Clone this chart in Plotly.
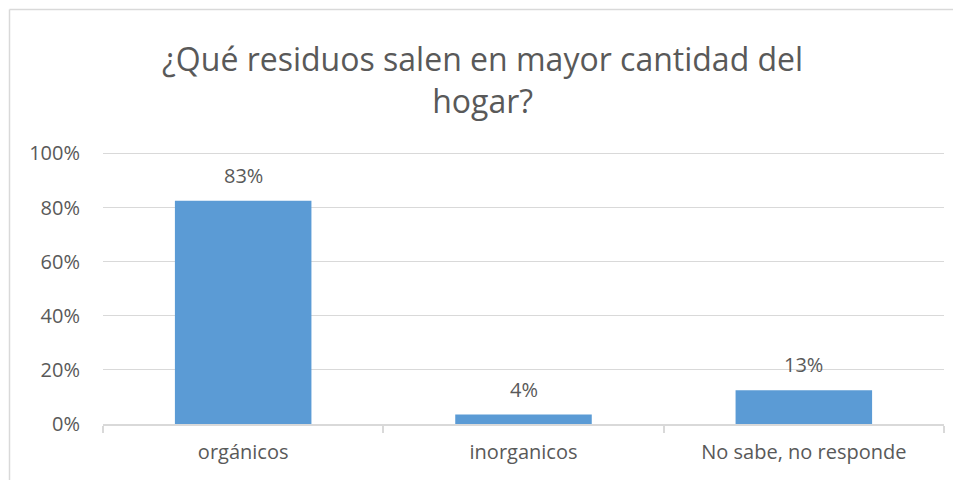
import plotly.graph_objects as go

categories = ["orgánicos", "inorganicos", "No sabe, no responde"]
values = [0.825, 0.035, 0.125]
value_labels = ["83%", "4%", "13%"]
y_ticks = [0, 0.2, 0.4, 0.6, 0.8, 1.0]
y_tick_labels = ["0%", "20%", "40%", "60%", "80%", "100%"]
title_text = "¿Qué residuos salen en mayor cantidad del<br>hogar?"

FONT = "Open Sans"
GREY = "#595959"
LINE = "#d9d9d9"

# page has an 8px body margin; figure is sized to fit the window
W, H = 953, 472
L, R, T, B = 95, 17, 140, 56
pw = W - L - R
ph = H - T - B

fig = go.Figure()
fig.add_trace(go.Bar(
    x=categories, y=values,
    marker=dict(color="#5b9bd5", line=dict(width=0)),
    width=0.487, hoverinfo="skip",
))

for c, v, t in zip(categories, values, value_labels):
    fig.add_annotation(x=c, y=v, text=t, showarrow=False, xref="x", yref="y",
                       yanchor="bottom", yshift=10,
                       font=dict(family=FONT, size=20, color=GREY))

fx = lambda px: (px - L) / pw
fy = lambda py: (H - B - py) / ph
shapes = [
    dict(type="line", xref="paper", yref="paper", x0=fx(1.5), x1=fx(1.5), y0=fy(490), y1=fy(1.5),
         line=dict(color=LINE, width=1.5)),
    dict(type="line", xref="paper", yref="paper", x0=fx(1.5), x1=fx(975), y0=fy(1.5), y1=fy(1.5),
         line=dict(color=LINE, width=1.5)),
]

fig.update_layout(
    width=W, height=H, autosize=False,
    margin=dict(l=L, r=R, t=T, b=B, pad=0),
    paper_bgcolor="white", plot_bgcolor="white",
    showlegend=False,
    shapes=shapes,
    title=dict(text=title_text, x=0.498, xref="container", xanchor="center",
               y=1 - 63 / H, yref="container", yanchor="top",
               font=dict(family=FONT, size=32, color=GREY)),
    xaxis=dict(
        type="category", showgrid=False, showline=True, linecolor=LINE, linewidth=1.5,
        ticks="outside", tickson="boundaries", ticklen=7, tickcolor=LINE, tickwidth=1.5,
        tickfont=dict(family=FONT, size=20, color=GREY), ticklabelstandoff=9,
        range=[-0.5, 2.5], fixedrange=True,
    ),
    yaxis=dict(
        range=[0, 1.02], tickvals=y_ticks, ticktext=y_tick_labels,
        showgrid=True, gridcolor=LINE, gridwidth=1, zeroline=False, showline=False,
        ticks="", tickfont=dict(family=FONT, size=20, color=GREY), ticklabelstandoff=22,
        fixedrange=True,
    ),
)

fig.write_html("out.html")
